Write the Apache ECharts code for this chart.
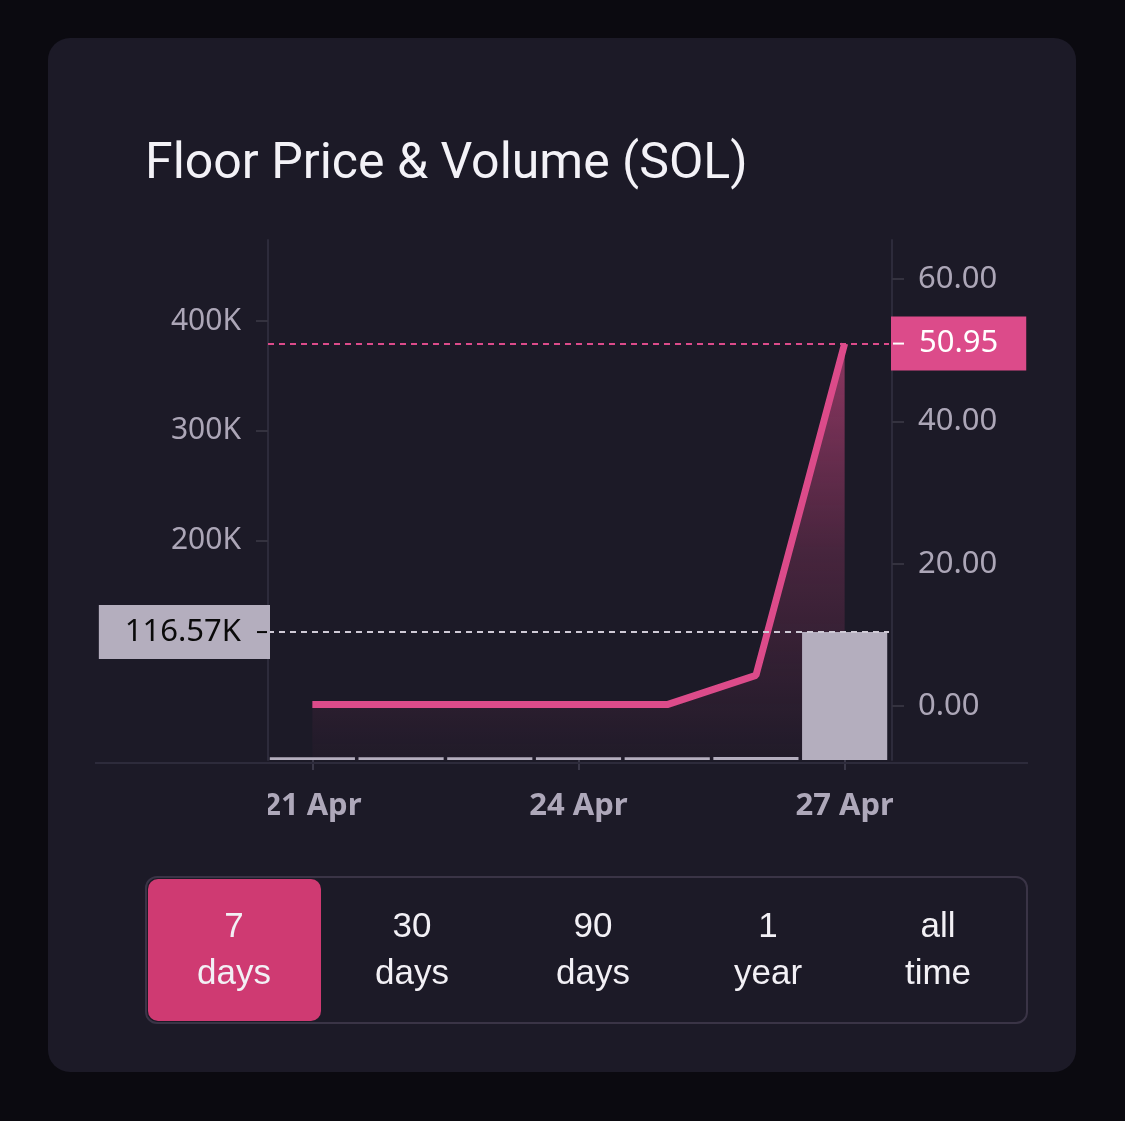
<!DOCTYPE html>
<html><head><meta charset="utf-8">
<script src="https://cdn.jsdelivr.net/npm/echarts@6/dist/echarts.min.js"></script>
<style>
html,body{margin:0;padding:0;background:#0b0a10;}
#card{position:absolute;left:48px;top:38px;width:1028px;height:1034px;border-radius:22px;background:#1c1a27;}
#c{position:absolute;left:0;top:0;width:1125px;height:1121px;}
</style>
</head><body><div id="card"></div><div id="c"></div>
<script>
// ---- data ----
const categories = ['21 Apr','22 Apr','23 Apr','24 Apr','25 Apr','26 Apr','27 Apr'];
const volumeK = [2.6, 2.5, 2.5, 2.4, 2.5, 2.7, 116.57];      // volume, thousands SOL
const floorPrice = [0.2, 0.2, 0.2, 0.2, 0.2, 4.3, 50.95];     // floor price, SOL
const volumeTicks = [100, 200, 300, 400];
const priceTicks = [0, 20, 40, 60];
const rangeButtons = [['7','days'],['30','days'],['90','days'],['1','year'],['all','time']];

const lastVol = volumeK[volumeK.length-1];
const lastPrice = floorPrice[floorPrice.length-1];

const PINK = '#dc4b8a';
const BAR = '#b4aebe';
const AXIS = '#2d2b3b';
const LABEL = '#aca6b7';
const NUMFONT = 'Noto Sans';

const chart = echarts.init(document.getElementById('c'), null, {renderer:'canvas'});

const btnCenters = [234, 412, 593, 768, 938];
const graphics = [
  {type:'line', z:1, shape:{x1:95,y1:763,x2:1028,y2:763}, style:{stroke:AXIS,lineWidth:2}},
  {type:'rect', z:100, shape:{x:200,y:776,width:68,height:60}, style:{fill:'#1c1a27'}},
  {type:'rect', z:100, shape:{x:893,y:776,width:60,height:60}, style:{fill:'#1c1a27'}},
  {type:'rect', z:1, shape:{x:146,y:877,width:881,height:146,r:11}, style:{fill:'none',stroke:'#3a3446',lineWidth:2}},
  {type:'rect', z:2, shape:{x:148,y:879,width:173,height:142,r:10}, style:{fill:'#cf3a72'}}
];
rangeButtons.forEach((b,i)=>{
  graphics.push({type:'text', z:3, x:btnCenters[i], y:927, style:{text:b[0], fill:'#f2f0f5', font:'35px "Liberation Sans"', align:'center', verticalAlign:'middle'}});
  graphics.push({type:'text', z:3, x:btnCenters[i], y:974, style:{text:b[1], fill:'#f2f0f5', font:'35px "Liberation Sans"', align:'center', verticalAlign:'middle'}});
});

const option = {
  backgroundColor:'transparent',
  animation:false,
  title:{text:'Floor Price & Volume (SOL)', left:140, top:135,
    textStyle:{color:'#f3f2f7', fontSize:50, fontWeight:'normal', fontFamily:'Roboto'}},
  grid:{left:268, right:236, top:240, height:520},
  xAxis:{type:'category', data:categories, boundaryGap:true, offset:3,
    axisLine:{show:false},
    axisTick:{show:true, alignWithLabel:true, interval:2, length:10, lineStyle:{color:'#3a3848', width:2}},
    axisLabel:{interval:2, margin:28, color:'#aea8ba', fontSize:31, fontWeight:'bold', fontFamily:NUMFONT},
    splitLine:{show:false}},
  yAxis:[
    {type:'value', position:'left', min:0, max:473.8,
      axisLine:{show:true, lineStyle:{color:AXIS, width:2}},
      axisTick:{show:true, length:12, customValues:volumeTicks, lineStyle:{color:'#34323f', width:2}},
      axisLabel:{customValues:volumeTicks, formatter:v=>v+'K', margin:27, color:LABEL, fontSize:30, fontFamily:NUMFONT},
      splitLine:{show:false}},
    {type:'value', position:'right', offset:3, min:-7.59, max:65.51,
      axisLine:{show:true, lineStyle:{color:AXIS, width:2}},
      axisTick:{show:true, length:12, customValues:priceTicks, lineStyle:{color:'#34323f', width:2}},
      axisLabel:{customValues:priceTicks, formatter:v=>v.toFixed(2), margin:26, color:LABEL, fontSize:31, fontFamily:NUMFONT},
      splitLine:{show:false}}
  ],
  series:[
    {type:'line', name:'Floor Price', yAxisIndex:1, data:floorPrice, symbol:'none', z:2,
      lineStyle:{color:PINK, width:7},
      areaStyle:{origin:'start', color:new echarts.graphic.LinearGradient(0,0,0,1,[
        {offset:0, color:'rgba(220,75,138,0.85)'},
        {offset:0.5, color:'rgba(220,75,138,0.32)'},
        {offset:1, color:'rgba(220,75,138,0.03)'}])},
      markLine:{symbol:'none', silent:true, animation:false,
        lineStyle:{color:PINK, type:[6,5], width:2},
        data:[{yAxis:lastPrice}],
        label:{position:'end', distance:2,
          formatter:'{k|}{s|}{t|'+lastPrice.toFixed(2)+'}{r|}',
          backgroundColor:PINK, padding:[12,0,12,2],
          rich:{k:{width:11,height:2,backgroundColor:'#ffffff'},
                s:{width:15},
                t:{color:'#ffffff', fontSize:31, fontFamily:NUMFONT, lineHeight:30},
                r:{width:28}}}}},
    {type:'bar', name:'Volume', yAxisIndex:0, data:volumeK, barCategoryGap:'4%', z:4,
      itemStyle:{color:BAR},
      markLine:{symbol:'none', silent:true, animation:false,
        lineStyle:{color:'#cfcad6', type:[6,5], width:2},
        data:[{yAxis:lastVol}],
        label:{position:'start', distance:-2,
          formatter:'{t|'+lastVol.toFixed(2)+'K}{s|}{k|}{r|}',
          backgroundColor:BAR, padding:[12,0,12,26],
          rich:{t:{color:'#0a0a0a', fontSize:31, fontFamily:NUMFONT, lineHeight:30},
                s:{width:16},
                k:{width:10,height:2,backgroundColor:'#0a0a0a'},
                r:{width:3}}}}}
  ],
  graphic:graphics
};
chart.setOption(option);
</script>
</body></html>
